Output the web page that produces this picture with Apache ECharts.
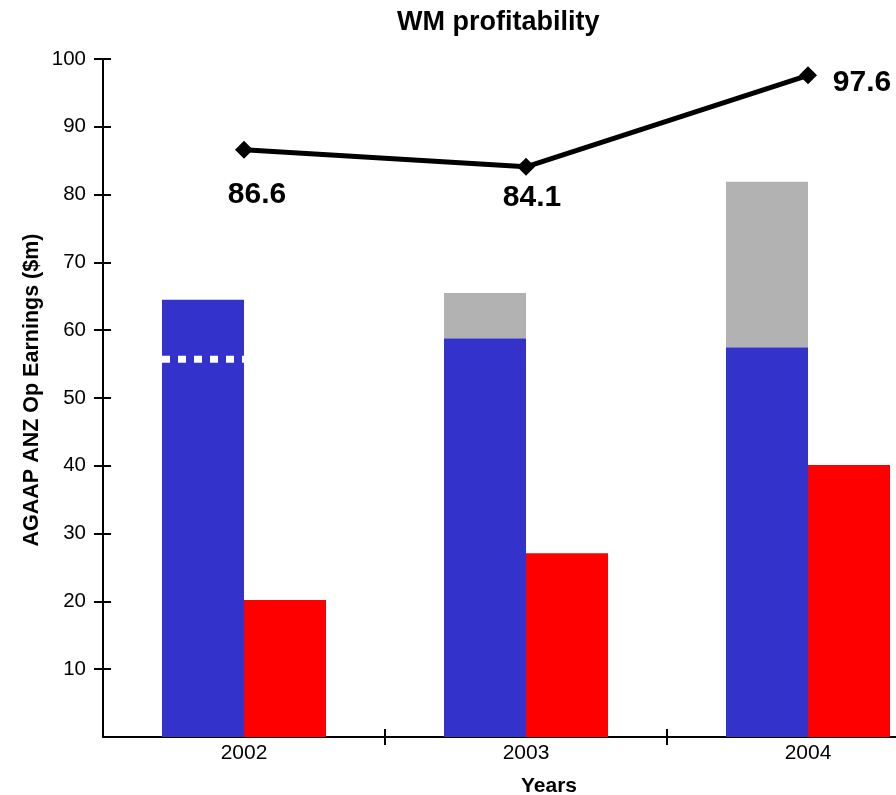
<!DOCTYPE html>
<html>
<head>
<meta charset="utf-8">
<title>WM profitability</title>
<script src="https://cdn.jsdelivr.net/npm/echarts@6/dist/echarts.min.js"></script>
<style>
  html, body { margin: 0; padding: 0; background: #ffffff; }
  #chart { width: 896px; height: 795px; }
</style>
</head>
<body>
<div id="chart"></div>
<script>
// Years on the category axis
const years = ['2002', '2003', '2004'];

// Operating earnings split ($m)
const baseEarnings = [64.5, 58.8, 57.5];     // blue segment
const extraEarnings = ['-', 6.7, 24.4];      // grey segment stacked on blue
const otherEarnings = [20.2, 27.1, 40.1];    // red bars

// Line values shown with their labels
const profitability = [86.6, 84.1, 97.6];

// Dotted reference level drawn across the 2002 blue bar
const dottedLevel = [['2002', 55.7]];

// Value axis tick labels
const yTicks = [10, 20, 30, 40, 50, 60, 70, 80, 90, 100];

const FONT = 'Liberation Sans, Arial, Helvetica, sans-serif';
const BAR_W = 82;

// Label placement for each line point (offset from the marker centre)
const labelOffsets = [[13, 45], [6, 31], [54, 7]];

const lineData = profitability.map((v, i) => ({
  value: v,
  label: { offset: labelOffsets[i] }
}));

const chart = echarts.init(document.getElementById('chart'), null, { renderer: 'canvas' });

const yBase = {
  type: 'value',
  min: 0,
  max: 100,
  interval: 10,
  position: 'left',
  splitLine: { show: false },
  axisLine: { show: true, lineStyle: { color: '#000', width: 2 } }
};

const xBase = {
  type: 'category',
  data: years,
  position: 'bottom',
  axisLine: { show: true, lineStyle: { color: '#000', width: 2 } },
  splitLine: { show: false }
};

chart.setOption({
  animation: false,
  backgroundColor: '#ffffff',
  title: {
    text: 'WM profitability',
    left: 397,
    top: 9,
    padding: 0,
    textStyle: { fontFamily: FONT, fontSize: 27, fontWeight: 'bold', color: '#000' }
  },
  // the plot area runs past the right edge of the canvas
  grid: { left: 103, top: 59, width: 846, height: 678, containLabel: false, outerBoundsMode: 'none' },
  xAxis: [
    Object.assign({}, xBase, {
      name: 'Years',
      nameLocation: 'middle',
      nameGap: 39,
      nameMoveOverlap: false,
      nameTextStyle: {
        fontFamily: FONT, fontSize: 21, fontWeight: 'bold', color: '#000',
        padding: [0, 0, 0, 46]
      },
      axisTick: {
        show: true, inside: false, length: 8,
        interval: (i) => i > 0,
        lineStyle: { color: '#000', width: 2 }
      },
      axisLabel: { fontFamily: FONT, fontSize: 21, color: '#000', margin: 6 }
    }),
    Object.assign({}, xBase, {
      axisTick: {
        show: true, inside: true, length: 8,
        interval: (i) => i > 0,
        lineStyle: { color: '#000', width: 2 }
      },
      axisLabel: { show: false }
    })
  ],
  yAxis: [
    Object.assign({}, yBase, {
      name: 'AGAAP ANZ Op Earnings ($m)',
      nameLocation: 'middle',
      nameGap: 60,
      nameMoveOverlap: false,
      nameRotate: 90,
      nameTextStyle: {
        fontFamily: FONT, fontSize: 21.5, fontWeight: 'bold', color: '#000',
        padding: [0, 0, 0, 16]
      },
      axisTick: {
        show: true, inside: false, length: 9,
        customValues: yTicks,
        lineStyle: { color: '#000', width: 2 }
      },
      axisLabel: {
        fontFamily: FONT, fontSize: 20.5, color: '#000', margin: 17,
        customValues: yTicks
      }
    }),
    Object.assign({}, yBase, {
      axisTick: {
        show: true, inside: true, length: 8,
        customValues: yTicks,
        lineStyle: { color: '#000', width: 2 }
      },
      axisLabel: { show: false }
    })
  ],
  series: [
    {
      name: 'Base',
      type: 'bar',
      stack: 'earnings',
      data: baseEarnings,
      barWidth: BAR_W,
      barGap: '0%',
      itemStyle: { color: '#3333CC' },
      xAxisIndex: 0,
      yAxisIndex: 0
    },
    {
      name: 'Extra',
      type: 'bar',
      stack: 'earnings',
      data: extraEarnings,
      barWidth: BAR_W,
      barGap: '0%',
      itemStyle: { color: '#B2B2B2' },
      xAxisIndex: 0,
      yAxisIndex: 0
    },
    {
      name: 'Other',
      type: 'bar',
      data: otherEarnings,
      barWidth: BAR_W,
      barGap: '0%',
      itemStyle: { color: '#FF0000' },
      xAxisIndex: 0,
      yAxisIndex: 0
    },
    {
      name: 'Profitability',
      type: 'line',
      data: lineData,
      symbol: 'diamond',
      symbolSize: 18,
      lineStyle: { color: '#000', width: 5 },
      itemStyle: { color: '#000' },
      label: {
        show: true,
        position: 'inside',
        fontFamily: FONT,
        fontSize: 30,
        fontWeight: 'bold',
        color: '#000'
      },
      z: 5,
      xAxisIndex: 0,
      yAxisIndex: 0
    },
    {
      name: 'Level',
      type: 'custom',
      data: dottedLevel,
      z: 4,
      xAxisIndex: 0,
      yAxisIndex: 0,
      renderItem: function (params, api) {
        const c = api.coord([api.value(0), api.value(1)]);
        return {
          type: 'line',
          shape: { x1: c[0] - BAR_W, y1: c[1], x2: c[0], y2: c[1] },
          style: { stroke: '#ffffff', lineWidth: 7, lineDash: [8, 8] }
        };
      }
    }
  ]
});
</script>
</body>
</html>
